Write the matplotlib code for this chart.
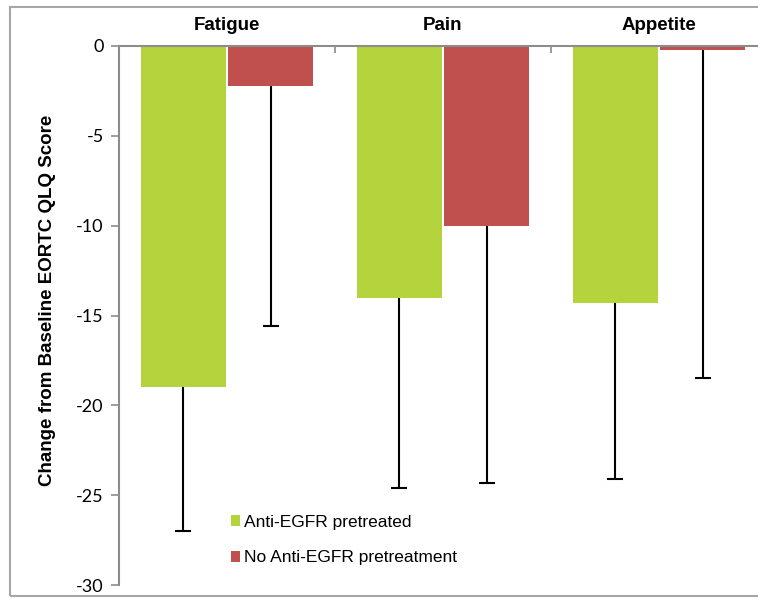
import matplotlib.pyplot as plt
import matplotlib.patches as mpatches
from matplotlib.ticker import FixedLocator
import numpy as np

# QLQ score change from baseline, by symptom scale
categories = ['Fatigue', 'Pain', 'Appetite']
series_names = ['Anti-EGFR pretreated', 'No Anti-EGFR pretreatment']
pretreated = [-19.0, -14.0, -14.3]
no_pretreat = [-2.2, -10.0, -0.2]
pretreated_err = [8.0, 10.6, 9.8]
no_pretreat_err = [13.4, 14.3, 18.3]
yticks = [0, -5, -10, -15, -20, -25, -30]

green = '#b5d33d'
red = '#c0504d'
grey = '#8c8c8c'

plt.rcParams['font.family'] = ['Liberation Sans', 'DejaVu Sans']

fig = plt.figure(figsize=(7.58, 5.98), dpi=100)
ax = fig.add_axes([119 / 758, 13 / 598, 648 / 758, 539 / 598])

x = np.arange(len(categories))
w = 0.389
off = 0.2014


def down_errors(xs, vals, errs):
    # error bar drawn only below the bar end, capped at the bottom
    lows = np.array(vals) - np.array(errs)
    ax.vlines(xs, lows, vals, color='black', linewidth=1.5, zorder=3)
    ax.plot(xs, lows, linestyle='none', marker='_', markersize=12,
            markeredgewidth=1.5, color='black', zorder=3)


ax.bar(x - off, pretreated, w, color=green, label=series_names[0], zorder=2)
ax.bar(x + off, no_pretreat, w, color=red, label=series_names[1], zorder=2)
down_errors(x - off, pretreated, pretreated_err)
down_errors(x + off, no_pretreat, no_pretreat_err)

ax.set_xlim(-0.5, len(categories) - 0.5)
ax.set_ylim(-30, 0)

# category names above the zero line, boundary ticks pointing down
ax.xaxis.tick_top()
ax.set_xticks(x)
ax.set_xticklabels(categories, fontsize=13.5, fontweight='bold')
ax.tick_params(axis='x', which='major', length=0, pad=9)
ax.xaxis.set_minor_locator(FixedLocator(x[:-1] + 0.5))
ax.tick_params(axis='x', which='minor', direction='in', length=5, color=grey, width=1.2)

ax.set_yticks(yticks)
ax.set_yticklabels([str(v) for v in yticks], family=['Lato', 'DejaVu Sans'], fontsize=13)
ax.tick_params(axis='y', direction='out', length=6, color=grey, width=1.2, pad=5)

for side in ['right', 'bottom']:
    ax.spines[side].set_visible(False)
for side in ['top', 'left']:
    ax.spines[side].set_color(grey)
    ax.spines[side].set_linewidth(1.5)

fig.text(48 / 758, 1 - 300 / 598, 'Change from Baseline EORTC QLQ Score',
         rotation=90, ha='center', va='center', fontsize=13.5, fontweight='bold')

ax.legend(loc='upper left', bbox_to_anchor=(215 / 758, 1 - 499 / 598),
          bbox_transform=fig.transFigure, frameon=False, handlelength=0.55,
          handleheight=0.55, handletextpad=0.2, labelspacing=1.2,
          prop={'size': 12.5})

# outer frame
fig.patches.append(mpatches.Rectangle((10 / 758, 2 / 598), 1.0, 1 - 9 / 598,
                                      transform=fig.transFigure, fill=False,
                                      edgecolor='#a6a6a6', linewidth=1.5))

fig.savefig('out.png', dpi=100)
